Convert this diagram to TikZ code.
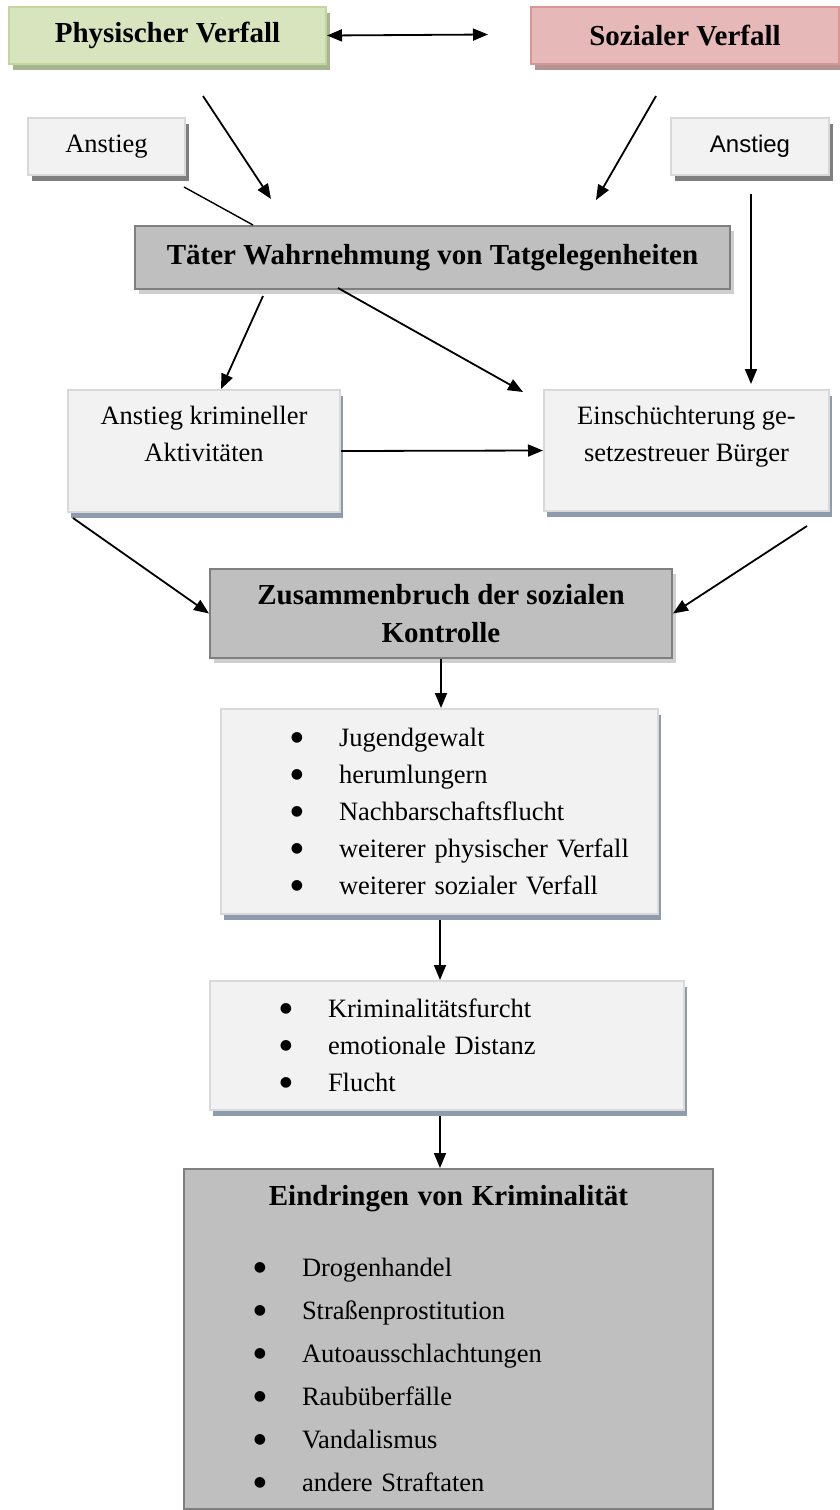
\documentclass[tikz,border=0pt]{standalone}
\usepackage{fontspec}
\setmainfont{Liberation Serif}
\setsansfont{Liberation Sans}
\newfontfamily\symbolschrift{DejaVu Sans}
\usetikzlibrary{shapes}
\usetikzlibrary{arrows.meta}
\usetikzlibrary{shadows}
\definecolor{gruenfill}{HTML}{D7E4BD}
\definecolor{gruenrand}{HTML}{C3D69B}
\definecolor{gruenschatten}{HTML}{A6B491}
\definecolor{rotfill}{HTML}{E6B9B8}
\definecolor{rotrand}{HTML}{D99694}
\definecolor{rotschatten}{HTML}{B39494}
\definecolor{hellfill}{HTML}{F2F2F2}
\definecolor{hellrand}{HTML}{D9D9D9}
\definecolor{blaugrau}{HTML}{8D9BAD}
\definecolor{dunkelfill}{HTML}{BFBFBF}
\definecolor{dunkelrand}{HTML}{7F7F7F}
\definecolor{dunkelschatten}{HTML}{CFCFCF}
\newcommand{\punkt}[1]{\hspace*{76pt}\makebox[0pt]{\raisebox{5pt}{\symbolschrift\fontsize{14}{14}\selectfont ●}}\hspace*{42pt}#1}
\begin{document}
\begin{tikzpicture}[x=1pt,y=-1pt,
	every node/.style={inner sep=0pt,anchor=north west,font=\fontsize{26.5}{37}\selectfont},
	>={Triangle[length=15pt,width=12pt]},
	pfeil/.style={->,line width=1.8pt},
	kasten/.style={rectangle,draw,line width=2pt,align=center},
	titel/.style={font=\bfseries\fontsize{29}{38}\selectfont},
	klein/.style={kasten,fill=hellfill,draw=hellrand,minimum height=57pt,general shadow={shadow xshift=4pt,shadow yshift=-6pt,fill=dunkelrand}},
	hell/.style={kasten,fill=hellfill,draw=hellrand,general shadow={shadow xshift=3pt,shadow yshift=-6pt,fill=blaugrau}},
	dunkel/.style={kasten,fill=dunkelfill,draw=dunkelrand,general shadow={shadow xshift=4pt,shadow yshift=-5pt,fill=dunkelschatten}}]
		\useasboundingbox (0,0) rectangle (839,1510);
		\node[kasten,titel,fill=gruenfill,draw=gruenrand,general shadow={shadow xshift=4pt,shadow yshift=-6pt,fill=gruenschatten},minimum width=317pt,minimum height=57pt] (phys) at (8,6) {Physischer Verfall};
		\node[kasten,titel,fill=rotfill,draw=rotrand,general shadow={shadow xshift=4pt,shadow yshift=-6pt,fill=rotschatten},minimum width=308pt,minimum height=57pt] (soz) at (530,6) {Sozialer Verfall};
		\node[klein,minimum width=157pt] (anl) at (27,117) {Anstieg};
		\node[klein,minimum width=158pt,font=\sffamily\fontsize{24}{30}\selectfont] (anr) at (670,117) {Anstieg};
		\node[dunkel,titel,minimum width=595pt,minimum height=63pt] (taeter) at (134,225) {Täter Wahrnehmung von Tatgelegenheiten};
		\node[hell,minimum width=272pt,minimum height=122pt] (krim) at (67,389) {Anstieg krimineller\\Aktivitäten\\[-14pt]\strut};
		\node[hell,minimum width=285pt,minimum height=121pt] (einsch) at (543,389) {Einschüchterung ge-\\setzestreuer Bürger\\[-14pt]\strut};
		\node[dunkel,titel,minimum width=462pt,minimum height=89pt] (zus) at (209,568) {Zusammenbruch der sozialen\\Kontrolle};
		\node[hell,minimum width=437pt,minimum height=205pt,text width=437pt,align=left] (liste1) at (220,708) {\punkt{Jugendgewalt}\\\punkt{herumlungern}\\\punkt{Nachbarschaftsflucht}\\\punkt{weiterer physischer Verfall}\\\punkt{weiterer sozialer Verfall}};
		\node[hell,minimum width=474pt,minimum height=129pt,text width=474pt,align=left] (liste2) at (209,980) {\punkt{Kriminalitätsfurcht}\\\punkt{emotionale Distanz}\\\punkt{Flucht}};
		\node[kasten,fill=dunkelfill,draw=dunkelrand,minimum width=529pt,minimum height=340pt,text width=529pt,align=left,font=\fontsize{26.5}{43}\selectfont] (eindr) at (183,1168) {\makebox[529pt]{\bfseries\fontsize{29}{43}\selectfont Eindringen von Kriminalität}\\[28pt]\punkt{Drogenhandel}\\\punkt{Straßenprostitution}\\\punkt{Autoausschlachtungen}\\\punkt{Raubüberfälle}\\\punkt{Vandalismus}\\\punkt{andere Straftaten}};
		\coordinate (sozlinks) at (488,34.5);
		\coordinate (physab) at (203,96);
		\coordinate (taeterl) at (271,199);
		\coordinate (anlab) at (184,187);
		\coordinate (taeterob) at (253,225);
		\coordinate (sozab) at (656,96);
		\coordinate (taeterr) at (596,200);
		\coordinate (anrab) at (751,194);
		\coordinate (einschob) at (751,384);
		\coordinate (taeterul) at (263,296);
		\coordinate (krimob) at (221,389);
		\coordinate (taeterum) at (338,288);
		\coordinate (einschl) at (523,392);
		\coordinate (krimab) at (73,518);
		\coordinate (einschab) at (807,526);
		\coordinate (liste1ab) at (440,920);
		\coordinate (liste2ab) at (440,1116);
		\draw[pfeil,<->] (phys.east) -- (sozlinks);
		\draw[pfeil] (physab) -- (taeterl);
		\draw[line width=1.4pt] (anlab) -- (taeterob);
		\draw[pfeil] (sozab) -- (taeterr);
		\draw[pfeil] (anrab) -- (einschob);
		\draw[pfeil] (taeterul) -- (krimob);
		\draw[pfeil] (taeterum) -- (einschl);
		\draw[pfeil] (krim.east) -- (einsch.west);
		\draw[pfeil] (krimab) -- (zus.west);
		\draw[pfeil] (einschab) -- (zus.east);
		\draw[pfeil] (zus.south) -- (zus.south |- liste1.north);
		\draw[pfeil] (liste1ab) -- (liste1ab |- liste2.north);
		\draw[pfeil] (liste2ab) -- (liste2ab |- eindr.north);
\end{tikzpicture}
\end{document}
